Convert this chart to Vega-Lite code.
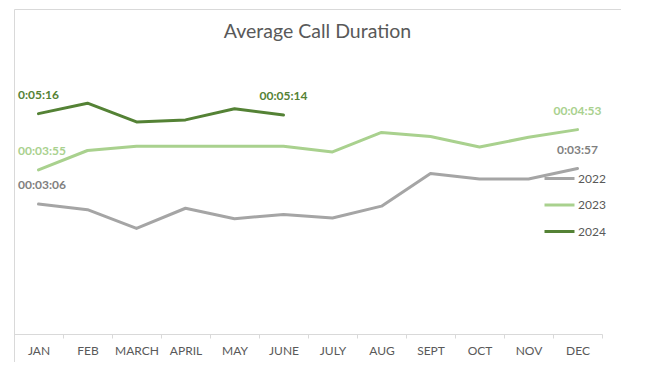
{
  "$schema": "https://vega.github.io/schema/vega-lite/v6.json",
  "width": 607,
  "height": 353,
  "autosize": "none",
  "padding": {"left": 14, "top": 9, "right": 0, "bottom": 0},
  "background": "white",
  "config": {"view": {"stroke": "#D9D9D9", "strokeWidth": 1}, "font": "Lato"},
  "title": {"text": "Average Call Duration", "font": "Lato", "fontSize": 19.5, "fontWeight": "normal", "color": "#595959", "anchor": "middle", "frame": "group", "baseline": "alphabetic", "offset": 0, "dy": 48},
  "data": {"values": [
    {"month": "JAN", "year": "2022", "sec": 186, "label": "00:03:06"},
    {"month": "FEB", "year": "2022", "sec": 178},
    {"month": "MARCH", "year": "2022", "sec": 151},
    {"month": "APRIL", "year": "2022", "sec": 180},
    {"month": "MAY", "year": "2022", "sec": 165},
    {"month": "JUNE", "year": "2022", "sec": 171},
    {"month": "JULY", "year": "2022", "sec": 166},
    {"month": "AUG", "year": "2022", "sec": 183},
    {"month": "SEPT", "year": "2022", "sec": 230},
    {"month": "OCT", "year": "2022", "sec": 222},
    {"month": "NOV", "year": "2022", "sec": 222},
    {"month": "DEC", "year": "2022", "sec": 237, "label": "0:03:57"},
    {"month": "JAN", "year": "2023", "sec": 235, "label": "00:03:55"},
    {"month": "FEB", "year": "2023", "sec": 263},
    {"month": "MARCH", "year": "2023", "sec": 269},
    {"month": "APRIL", "year": "2023", "sec": 269},
    {"month": "MAY", "year": "2023", "sec": 269},
    {"month": "JUNE", "year": "2023", "sec": 269},
    {"month": "JULY", "year": "2023", "sec": 261},
    {"month": "AUG", "year": "2023", "sec": 289},
    {"month": "SEPT", "year": "2023", "sec": 283},
    {"month": "OCT", "year": "2023", "sec": 268},
    {"month": "NOV", "year": "2023", "sec": 282},
    {"month": "DEC", "year": "2023", "sec": 293, "label": "00:04:53"},
    {"month": "JAN", "year": "2024", "sec": 316, "label": "0:05:16"},
    {"month": "FEB", "year": "2024", "sec": 331},
    {"month": "MARCH", "year": "2024", "sec": 304},
    {"month": "APRIL", "year": "2024", "sec": 307},
    {"month": "MAY", "year": "2024", "sec": 323},
    {"month": "JUNE", "year": "2024", "sec": 314, "label": "00:05:14"}
  ]},
  "encoding": {
    "x": {
      "field": "month", "type": "ordinal",
      "sort": ["JAN", "FEB", "MARCH", "APRIL", "MAY", "JUNE", "JULY", "AUG", "SEPT", "OCT", "NOV", "DEC"],
      "scale": {"type": "band", "range": [0, 588], "paddingInner": 0, "paddingOuter": 0},
      "axis": {"title": null, "labelAngle": 0, "labelFont": "Lato", "labelFontSize": 12, "labelColor": "#595959", "domainColor": "#D9D9D9", "tickColor": "#D9D9D9", "tickSize": 4, "tickBand": "extent", "labelPadding": 7, "offset": -28, "grid": false}
    },
    "y": {
      "field": "sec", "type": "quantitative",
      "scale": {"domain": [0, 360], "range": [324.5, 74], "nice": false, "zero": true},
      "axis": null
    }
  },
  "layer": [
    {
      "mark": {"type": "line", "strokeWidth": 3, "strokeJoin": "round", "strokeCap": "round"},
      "encoding": {
        "color": {
          "field": "year", "type": "nominal",
          "scale": {"domain": ["2022", "2023", "2024"], "range": ["#A5A5A5", "#A9D18E", "#548235"]},
          "legend": {"title": null, "orient": "none", "legendX": 529, "legendY": 153, "symbolType": "stroke", "symbolSize": 900, "symbolStrokeWidth": 3, "labelFont": "Lato", "labelFontSize": 12, "labelColor": "#595959", "labelOffset": 2, "rowPadding": 3.5, "padding": 0}
        }
      }
    },
    {
      "transform": [{"filter": "datum.label && datum.month == 'JAN'"}],
      "mark": {"type": "text", "align": "left", "baseline": "alphabetic", "dx": -20.5, "dy": -15, "font": "Lato", "fontSize": 12, "fontWeight": "bold"},
      "encoding": {
        "text": {"field": "label"},
        "fill": {"field": "year", "type": "nominal", "scale": {"domain": ["2022", "2023", "2024"], "range": ["#7F7F7F", "#A9D18E", "#548235"]}, "legend": null}
      }
    },
    {
      "transform": [{"filter": "datum.label && datum.month != 'JAN'"}],
      "mark": {"type": "text", "align": "center", "baseline": "alphabetic", "dy": -15, "font": "Lato", "fontSize": 12, "fontWeight": "bold"},
      "encoding": {
        "text": {"field": "label"},
        "fill": {"field": "year", "type": "nominal", "scale": {"domain": ["2022", "2023", "2024"], "range": ["#7F7F7F", "#A9D18E", "#548235"]}, "legend": null}
      }
    }
  ]
}
